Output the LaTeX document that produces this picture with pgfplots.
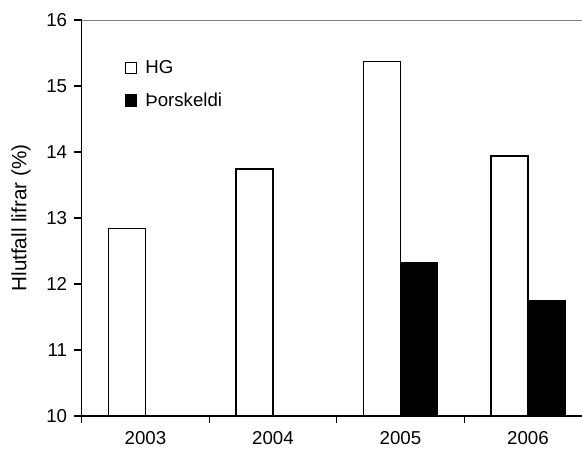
\documentclass[border=0pt]{standalone}
\usepackage{fontspec}
\setmainfont{Liberation Sans}
\usepackage{pgfplots}
\pgfplotsset{compat=1.18}
\begin{document}
\begin{tikzpicture}
\begin{axis}[
  name=ax,
  scale only axis,
  width=375.2pt, height=297pt,
  xmin=-0.5, xmax=3.424,
  ymin=10, ymax=16,
  ytick={10,11,12,13,14,15,16},
  xtick={-0.5,0.5,1.5,2.5},
  xticklabels={},
  extra x ticks={0,1,2,3},
  extra x tick labels={2003,2004,2005,2006},
  extra x tick style={major tick length=0pt},
  tick align=outside,
  major tick length=5.5pt,
  axis x line*=bottom,
  axis y line*=left,
  axis line style={-, line width=0.8pt},
  tick style={line width=0.8pt, black},
  tick label style={font=\fontsize{14}{17}\selectfont},
  xticklabel style={yshift=-8pt},
  yticklabel style={xshift=-2pt},
  /pgf/number format/assume math mode=true,
  ylabel={Hlutfall lifrar (\%)},
  every axis y label/.style={at={(rel axis cs:0,0.5)}, xshift=-45.5pt, rotate=90, anchor=center, font=\fontsize{15.5}{18}\selectfont},
  ybar,
  bar width=0.29,
  legend style={draw=none, fill=none, at={(rel axis cs:0.085,0.905)}, anchor=north west,
     font=\fontsize{14}{17}\selectfont, row sep=9pt, column sep=4pt, inner sep=0pt},
  legend cell align=left,
  legend image code/.code={\draw[#1, line width=0.8pt] (0pt,-4.4pt) rectangle (8.8pt,4.4pt);},
]
\addplot[draw=black, fill=white, line width=1.1pt, bar shift=-0.145] coordinates {(0,12.84) (1,13.74) (2,15.37) (3,13.94)};
\addlegendentry{HG}
\addplot[draw=black, fill=black, line width=1.1pt, bar shift=0.145] coordinates {(2,12.32) (3,11.74)};
\addlegendentry{Þorskeldi}
\draw[gray, line width=0.8pt] (rel axis cs:0,1) -- (rel axis cs:1,1);
\end{axis}
\pgfresetboundingbox
\path[use as bounding box] (ax.south west) ++(-61.3pt,-28.5pt) rectangle ++(436.5pt,340.5pt);
\end{tikzpicture}
\end{document}
